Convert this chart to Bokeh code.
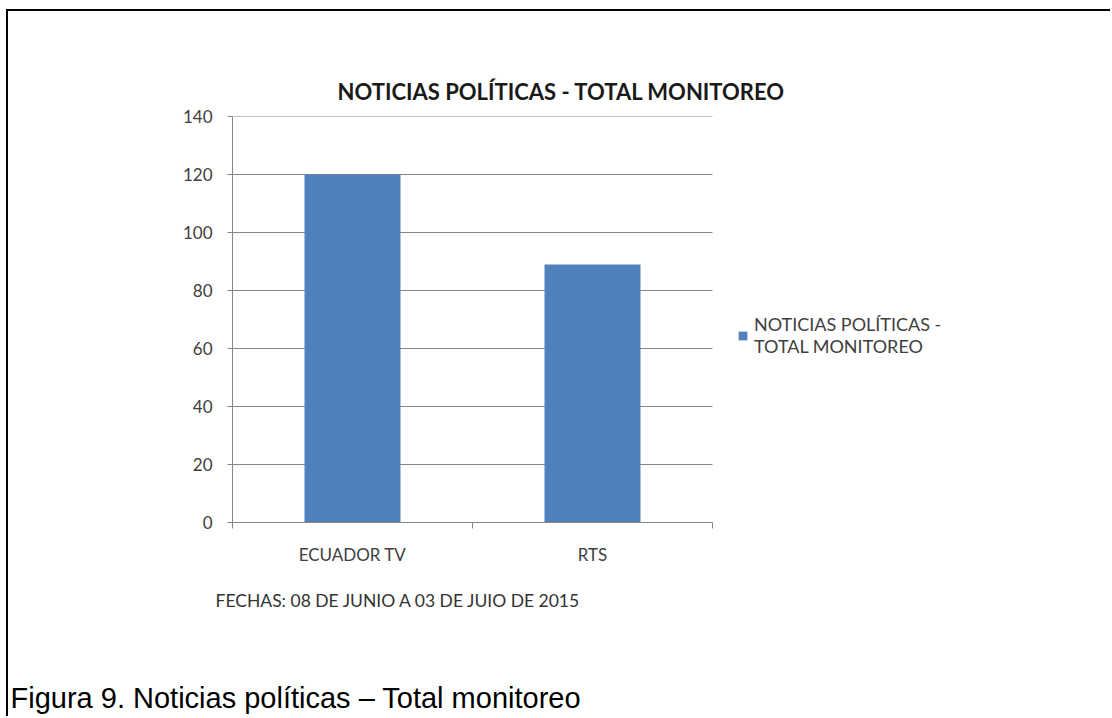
from bokeh.plotting import figure
from bokeh.models import Range1d, FixedTicker, Legend, LegendItem, Title, ColumnDataSource
from bokeh.embed import file_html
from bokeh.resources import INLINE

# ---- data ----
categories = ["ECUADOR TV", "RTS"]
values = [120, 89]
series_name = "NOTICIAS POLÍTICAS -\nTOTAL MONITOREO"
title_text = "NOTICIAS POLÍTICAS - TOTAL MONITOREO"
axis_note = "FECHAS: 08 DE JUNIO A 03 DE JUIO DE 2015"
caption = "Figura 9. Noticias políticas – Total monitoreo"
y_ticks = [0, 20, 40, 60, 80, 100, 120, 140]

# ---- layout (canvas pixels; canvas starts at page x=8, y=11) ----
OX, OY = 8, 11
W, H = 1112 - OX, 718 - OY
SLOT = 240                                  # pixels per category slot
FL, FT, FB = 232 - OX, 116 - OY, 522 - OY
FR = 1000 - OX                              # frame also hosts the legend
YMAX = 140
BAR = "#4F81BD"
GRID = "#868686"
TXT = "#404040"
FONT = "Lato"

n = len(categories)
slots = [i + 0.5 for i in range(n)]          # centre of each category slot
src = ColumnDataSource(dict(slot=slots, cat=categories, value=values))

p = figure(width=W, height=H, output_backend="svg", toolbar_location=None,
           x_range=Range1d(0, (FR - FL) / SLOT), y_range=Range1d(0, YMAX),
           min_border_left=FL, min_border_right=W - FR,
           min_border_top=FT, min_border_bottom=H - FB,
           styles={"margin-left": "8px", "margin-top": "11px",
                   "box-shadow": "-2px -2px 0 0 black"})
p.outline_line_color = None
p.background_fill_color = "white"
p.border_fill_color = "white"
p.xgrid.grid_line_color = None
p.ygrid.grid_line_color = None

# horizontal gridlines limited to the category area
p.segment(x0=0, x1=n, y0=y_ticks, y1=y_ticks, line_color=GRID, line_width=1)

# title
p.title.text = title_text
p.title.align = "left"
p.title.offset = 337 - 232
p.title.standoff = 23
p.title.text_font = FONT
p.title.text_font_style = "bold"
p.title.text_font_size = "22px"
p.title.text_color = "#1a1a1a"

# y axis
yax = p.yaxis[0]
yax.ticker = FixedTicker(ticks=y_ticks)
yax.axis_line_color = GRID
yax.major_tick_line_color = GRID
yax.major_tick_out = 5
yax.major_tick_in = 0
yax.minor_tick_line_color = None
yax.major_label_standoff = 15
yax.major_label_text_font = FONT
yax.major_label_text_font_size = "17px"
yax.major_label_text_color = TXT

# x axis: labels at category centres, ticks at category boundaries
xax = p.xaxis[0]
xax.bounds = (0, n)
xax.ticker = FixedTicker(ticks=slots, minor_ticks=list(range(n + 1)))
xax.major_label_overrides = {s: c for s, c in zip(slots, categories)}
xax.axis_line_color = GRID
xax.major_tick_line_color = None
xax.major_tick_out = 0
xax.major_tick_in = 0
xax.minor_tick_line_color = GRID
xax.minor_tick_out = 6
xax.minor_tick_in = 0
xax.major_label_standoff = 15
xax.major_label_text_font = FONT
xax.major_label_text_font_size = "17px"
xax.major_label_text_color = TXT

r = p.vbar(x="slot", top="value", width=0.4, source=src, fill_color=BAR, line_color=None)

legend = Legend(items=[LegendItem(label=series_name, renderers=[r])],
                location=(737 - 232, 165), padding=0, margin=0, spacing=0,
                glyph_width=11, glyph_height=11, label_standoff=6,
                label_text_font=FONT, label_text_font_size="18px",
                label_text_color=TXT, border_line_color=None,
                background_fill_alpha=0)
p.add_layout(legend)

note = Title(text=axis_note, align="left", offset=215 - 232, standoff=41,
             text_font=FONT, text_font_style="normal", text_font_size="17.5px",
             text_color="#333333")
p.add_layout(note, "below")
gap = Title(text=" ", align="left", standoff=43, text_font_size="1px")
p.add_layout(gap, "below")
cap = Title(text=caption, align="left", offset=10 - 232, standoff=4,
            text_font="Liberation Sans", text_font_style="normal",
            text_font_size="29px", text_color="black")
p.add_layout(cap, "below")

open("out.html", "w").write(file_html(p, INLINE))
